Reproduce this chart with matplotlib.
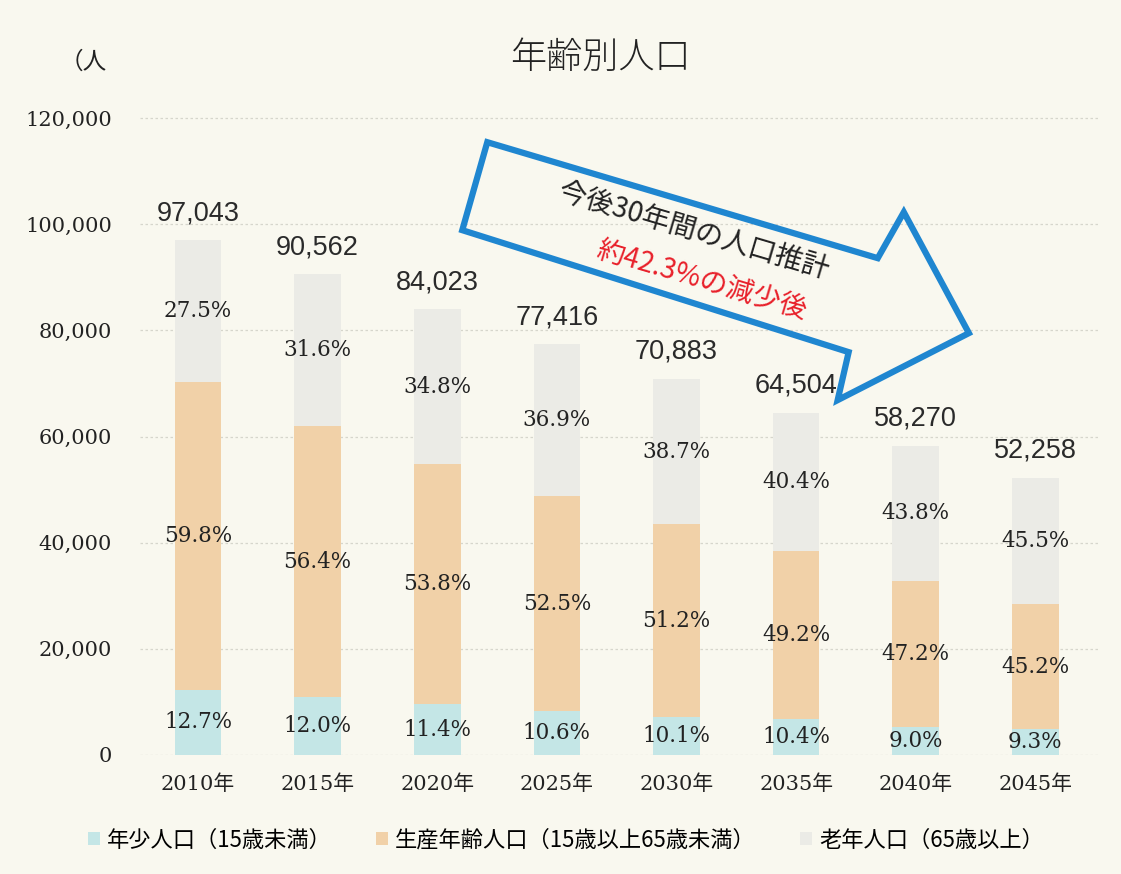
import numpy as np
import matplotlib.pyplot as plt
from matplotlib.patches import Polygon

# ============================================================
# DATA
# ============================================================

YEARS = ["2010年", "2015年", "2020年", "2025年", "2030年", "2035年", "2040年", "2045年"]
TOTALS = [97043, 90562, 84023, 77416, 70883, 64504, 58270, 52258]
PCT_YOUNG = [12.7, 12.0, 11.4, 10.6, 10.1, 10.4, 9.0, 9.3]
PCT_WORK = [59.8, 56.4, 53.8, 52.5, 51.2, 49.2, 47.2, 45.2]
PCT_OLD = [27.5, 31.6, 34.8, 36.9, 38.7, 40.4, 43.8, 45.5]

LEGEND_LABELS = ["年少人口（15歳未満）", "生産年齢人口（15歳以上65歳未満）", "老年人口（65歳以上）"]
YTICKS = [0, 20000, 40000, 60000, 80000, 100000, 120000]

# ============================================================
# STYLE
# ============================================================

BG = "#f9f8ef"
C_YOUNG = "#c4e6e6"
C_WORK = "#f1d1a8"
C_OLD = "#ebebe6"
ARROW_BLUE = "#1f86d0"

JP = ["Noto Sans CJK JP", "DejaVu Sans"]
SERIF_JP = ["DejaVu Serif", "Noto Sans CJK JP"]
SANS_NUM = ["Liberation Sans", "DejaVu Sans"]

plt.rcParams.update({
    "figure.facecolor": BG,
    "axes.facecolor": BG,
    "font.family": JP,
})

fig = plt.figure(figsize=(11.21, 8.74), dpi=100)
# 0 sits at y=755 px, 120,000 at y=118 px
ax_h = (755 - 118) * 125 / 120
ax = fig.add_axes([140 / 1121, 1 - 755 / 874, 960 / 1121, ax_h / 874])

x = np.arange(len(YEARS))
totals = np.array(TOTALS, dtype=float)
young = totals * np.array(PCT_YOUNG) / 100
work = totals * np.array(PCT_WORK) / 100
old = totals * np.array(PCT_OLD) / 100

w = 0.39
ax.bar(x, young, w, color=C_YOUNG, label=LEGEND_LABELS[0], zorder=2)
ax.bar(x, work, w, bottom=young, color=C_WORK, label=LEGEND_LABELS[1], zorder=2)
ax.bar(x, old, w, bottom=young + work, color=C_OLD, label=LEGEND_LABELS[2], zorder=2)

# segment percentages and totals
for i in range(len(x)):
    for bottom, h, p in [(0, young[i], PCT_YOUNG[i]),
                         (young[i], work[i], PCT_WORK[i]),
                         (young[i] + work[i], old[i], PCT_OLD[i])]:
        ax.text(x[i], bottom + h / 2, f"{p:.1f}%", ha="center", va="center",
                fontsize=15.5, family=SERIF_JP, color="#222222", zorder=3)
    ax.text(x[i], totals[i] + 2600, f"{TOTALS[i]:,}", ha="center", va="bottom",
            fontsize=19.5, family=SANS_NUM, color="#2a2a2a", zorder=3)

ax.set_xlim(-0.485, 7.54)
ax.set_ylim(0, 125000)
ax.set_yticks(YTICKS)
ax.set_yticklabels([f"{v:,}" for v in YTICKS], family=SERIF_JP, fontsize=15, color="#222222")
ax.set_xticks(x)
ax.set_xticklabels(YEARS, family=SERIF_JP, fontsize=15, color="#222222")
ax.tick_params(length=0, pad=20, axis="y")
ax.tick_params(length=0, pad=14, axis="x")
for s in ax.spines.values():
    s.set_visible(False)
ax.yaxis.grid(True, color="#d6d6cc", linestyle=(0, (2, 2)), linewidth=0.9, zorder=0)
ax.set_axisbelow(True)

# unit label and title
fig.text(60 / 1121, 1 - 62 / 874, "（人", fontsize=17, family=JP, ha="left", va="center", color="#222222")
fig.text(600 / 1121, 1 - 58 / 874, "年齢別人口", fontsize=26, family=JP, ha="center", va="center",
         color="#222222", fontweight="light")

# big outlined arrow (data coordinates)
arrow_x = [2.418, 5.682, 5.900, 6.444, 5.347, 5.439, 2.209]
arrow_y = [115443, 93597, 102260, 79473, 66855, 75895, 98870]
ax.add_patch(Polygon(np.column_stack([arrow_x, arrow_y]), closed=True, fill=False,
                     edgecolor=ARROW_BLUE, linewidth=4.5, joinstyle="miter",
                     clip_on=False, zorder=4))
ax.text(4.14, 98600, "今後30年間の人口推計", rotation=-16.5, ha="center", va="center",
        fontsize=20, family=JP, color="#222222", rotation_mode="anchor", zorder=5)
ax.text(4.21, 89500, "約42.3%の減少後", rotation=-16.5, ha="center", va="center",
        fontsize=20, family=JP, color="#e8202a", fontweight="normal",
        rotation_mode="anchor", zorder=5)

# legend
fig.legend(loc="center", bbox_to_anchor=(566 / 1121, 1 - 840 / 874), ncol=3,
           frameon=False, handlelength=0.55, handleheight=0.55,
           handletextpad=0.3, columnspacing=2.0, prop={"family": JP, "size": 16})

fig.savefig("out.png", dpi=100, facecolor=BG)
